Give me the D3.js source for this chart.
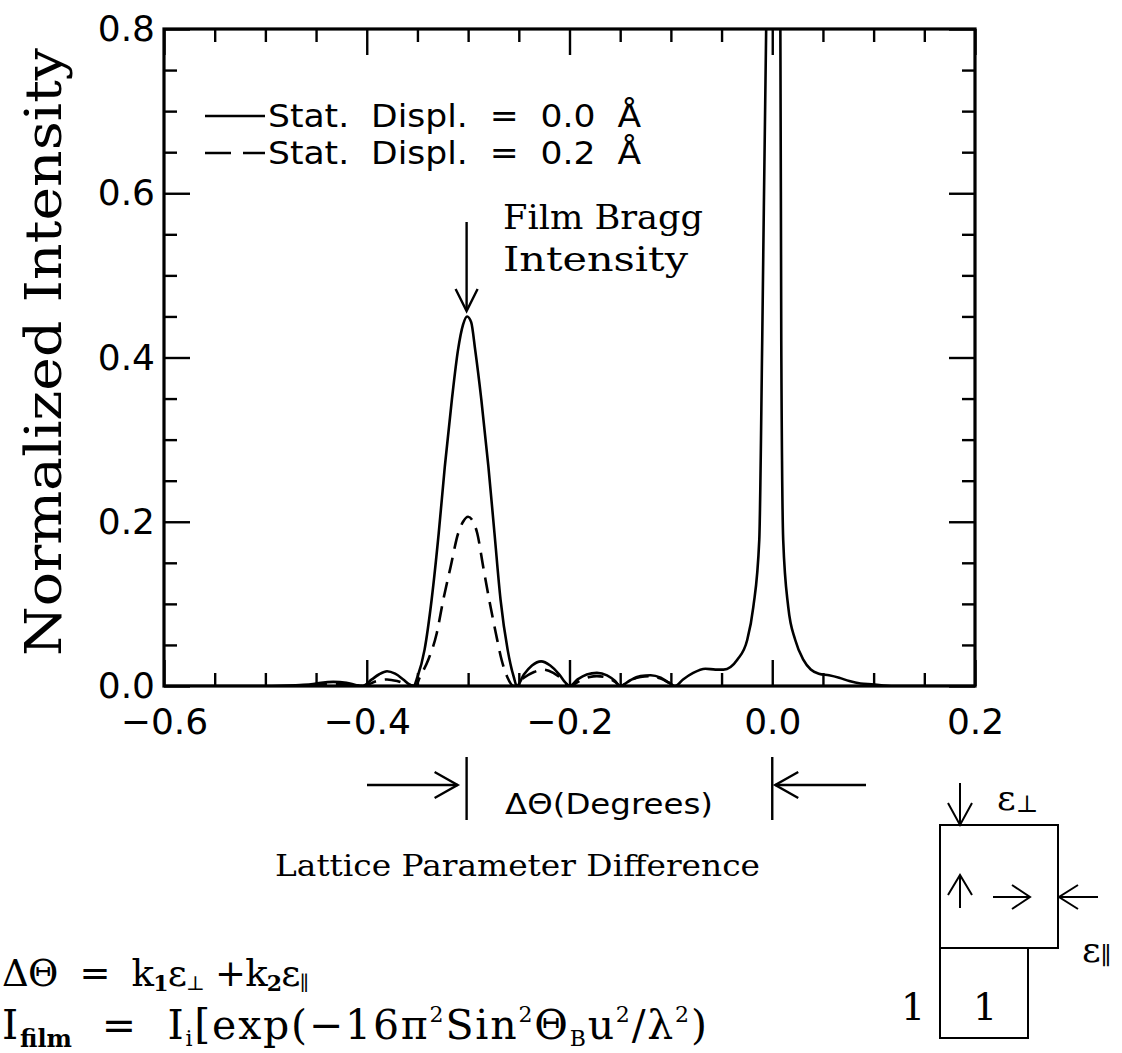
<!DOCTYPE html>
<html>
<head>
<meta charset="utf-8">
<script src="https://cdn.jsdelivr.net/npm/d3@7"></script>
<style>
  html, body { margin: 0; padding: 0; background: #fff; }
  svg { display: block; }
  text { white-space: pre; }
</style>
</head>
<body>
<svg id="chart" width="1122" height="1053"></svg>
<script>
// ---------------- DATA ----------------
const xMajorTicks = [-0.6, -0.4, -0.2, 0.0, 0.2];
const xTickLabels = ["\u22120.6", "\u22120.4", "\u22120.2", "0.0", "0.2"];
const xMinorTicks = [-0.55, -0.5, -0.45, -0.35, -0.3, -0.25, -0.15, -0.1, -0.05, 0.05, 0.1, 0.15];
const yMajorTicks = [0.0, 0.2, 0.4, 0.6, 0.8];
const yTickLabels = ["0.0", "0.2", "0.4", "0.6", "0.8"];
const yMinorTicks = [0.05, 0.1, 0.15, 0.25, 0.3, 0.35, 0.45, 0.5, 0.55, 0.65, 0.7, 0.75];

const seriesNames = ["Stat.  Displ.  =  0.0  \u00c5", "Stat.  Displ.  =  0.2  \u00c5"];

// Stat. Displ. = 0.0 Å (solid)
const solidX = [-0.600, -0.500, -0.470, -0.455, -0.445, -0.433, -0.420, -0.410, -0.404,
  -0.395, -0.388, -0.380, -0.372, -0.364, -0.358, -0.354,
  -0.350, -0.343, -0.336, -0.329, -0.323, -0.316, -0.310, -0.305, -0.301, -0.297, -0.293,
  -0.287, -0.280, -0.274, -0.268, -0.261, -0.255, -0.252,
  -0.245, -0.237, -0.228, -0.219, -0.210, -0.204, -0.200,
  -0.192, -0.183, -0.173, -0.163, -0.155, -0.150,
  -0.140, -0.130, -0.120, -0.110, -0.102, -0.096,
  -0.088, -0.078, -0.066, -0.056, -0.048,
  -0.0345, -0.0247, -0.0187, -0.0128, -0.0099, -0.006, -0.003, 0.001, 0.005,
  0.008, 0.0089, 0.0108, 0.0158, 0.0227, 0.0306, 0.038, 0.046, 0.056, 0.066, 0.076,
  0.087, 0.098, 0.120, 0.200];
const solidY = [0.000, 0.000, 0.001, 0.002, 0.004, 0.005, 0.004, 0.001, 0.000,
  0.008, 0.014, 0.018, 0.015, 0.008, 0.002, 0.000,
  0.011, 0.044, 0.105, 0.186, 0.267, 0.349, 0.409, 0.440, 0.450, 0.443, 0.409,
  0.349, 0.267, 0.186, 0.105, 0.044, 0.011, 0.000,
  0.014, 0.025, 0.030, 0.025, 0.014, 0.004, 0.000,
  0.008, 0.014, 0.016, 0.013, 0.006, 0.000,
  0.007, 0.012, 0.013, 0.010, 0.004, 0.000,
  0.008, 0.016, 0.021, 0.020, 0.020,
  0.032, 0.056, 0.096, 0.178, 0.420, 0.800, 0.950, 1.000, 0.950,
  0.800, 0.420, 0.178, 0.096, 0.056, 0.032, 0.020, 0.015, 0.013, 0.010, 0.006,
  0.003, 0.002, 0.000, 0.000];

// Stat. Displ. = 0.2 Å (dashed)
const dashedX = [-0.455, -0.433, -0.404, -0.390, -0.380, -0.370, -0.360, -0.352,
  -0.3475, -0.3393, -0.331, -0.3245, -0.3173, -0.3098, -0.305, -0.300, -0.295,
  -0.291, -0.2851, -0.2792, -0.2726, -0.267, -0.2614, -0.255,
  -0.245, -0.235, -0.226, -0.216, -0.207, -0.200,
  -0.190, -0.180, -0.173, -0.163, -0.155, -0.150,
  -0.140, -0.130, -0.120, -0.110, -0.102, -0.096];
const dashedY = [0.001, 0.003, 0.000, 0.006, 0.008, 0.006, 0.002, 0.000,
  0.011, 0.032, 0.064, 0.105, 0.145, 0.186, 0.200, 0.206, 0.200,
  0.186, 0.145, 0.105, 0.064, 0.032, 0.011, 0.000,
  0.010, 0.017, 0.020, 0.016, 0.008, 0.000,
  0.006, 0.011, 0.012, 0.010, 0.005, 0.000,
  0.007, 0.011, 0.012, 0.009, 0.004, 0.000];

// ---------------- LAYOUT ----------------
const svg = d3.select("#chart");
const L = 164, R = 975, T = 29, B = 686;
const x = d3.scaleLinear().domain([-0.6, 0.2]).range([L, R]);
const y = d3.scaleLinear().domain([0, 0.8]).range([B, T]);

const SANS = "'DejaVu Sans', 'Liberation Sans', sans-serif";
const SERIF = "'DejaVu Serif', 'Liberation Serif', serif";
const INK = "#000";

svg.append("defs").append("clipPath").attr("id", "plotclip")
  .append("rect").attr("x", L).attr("y", T).attr("width", R - L).attr("height", B - T);

// ---------------- AXES ----------------
function styleAxis(g) {
  g.select(".domain").remove();
  g.selectAll(".tick line").attr("stroke", INK).attr("stroke-width", 2.4);
}
svg.append("g").attr("transform", `translate(0,${B})`)
  .call(d3.axisBottom(x).tickValues(xMinorTicks).tickSize(-13).tickFormat("")).call(styleAxis);
const xb = svg.append("g").attr("transform", `translate(0,${B})`)
  .call(d3.axisBottom(x).tickValues(xMajorTicks).tickSize(-26).tickPadding(22)
    .tickFormat((d, i) => xTickLabels[i])).call(styleAxis);
xb.selectAll("text").attr("font-family", SANS).attr("font-size", 36).attr("fill", INK);
svg.append("g").attr("transform", `translate(0,${T})`)
  .call(d3.axisTop(x).tickValues(xMinorTicks).tickSize(-13).tickFormat("")).call(styleAxis);
svg.append("g").attr("transform", `translate(0,${T})`)
  .call(d3.axisTop(x).tickValues(xMajorTicks).tickSize(-26).tickFormat("")).call(styleAxis);
svg.append("g").attr("transform", `translate(${L},0)`)
  .call(d3.axisLeft(y).tickValues(yMinorTicks).tickSize(-13).tickFormat("")).call(styleAxis);
const yl = svg.append("g").attr("transform", `translate(${L},0)`)
  .call(d3.axisLeft(y).tickValues(yMajorTicks).tickSize(-26).tickPadding(9)
    .tickFormat((d, i) => yTickLabels[i])).call(styleAxis);
yl.selectAll("text").attr("font-family", SANS).attr("font-size", 36).attr("fill", INK);
svg.append("g").attr("transform", `translate(${R},0)`)
  .call(d3.axisRight(y).tickValues(yMinorTicks).tickSize(-13).tickFormat("")).call(styleAxis);
svg.append("g").attr("transform", `translate(${R},0)`)
  .call(d3.axisRight(y).tickValues(yMajorTicks).tickSize(-26).tickFormat("")).call(styleAxis);

svg.append("rect").attr("x", L).attr("y", T).attr("width", R - L).attr("height", B - T)
  .attr("fill", "none").attr("stroke", INK).attr("stroke-width", 3.2);

// ---------------- CURVES ----------------
const line = d3.line().x(d => x(d[0])).y(d => y(d[1])).curve(d3.curveMonotoneX);
const solid = solidX.map((v, i) => [v, solidY[i]]);
const dashed = dashedX.map((v, i) => [v, dashedY[i]]);
const plot = svg.append("g").attr("clip-path", "url(#plotclip)");
plot.append("path").datum(solid).attr("d", line)
  .attr("fill", "none").attr("stroke", INK).attr("stroke-width", 2.6).attr("stroke-linejoin", "round");
plot.append("path").datum(dashed).attr("d", line)
  .attr("fill", "none").attr("stroke", INK).attr("stroke-width", 2.6).attr("stroke-dasharray", "16,9");

// ---------------- ARROW HELPER ----------------
function arrow(g, x1, y1, x2, y2, headLen, headHalf, sw) {
  g.append("line").attr("x1", x1).attr("y1", y1).attr("x2", x2).attr("y2", y2)
    .attr("stroke", INK).attr("stroke-width", sw);
  const ang = Math.atan2(y2 - y1, x2 - x1);
  const bx = x2 - headLen * Math.cos(ang), by = y2 - headLen * Math.sin(ang);
  const px = -Math.sin(ang) * headHalf, py = Math.cos(ang) * headHalf;
  g.append("path").attr("d", `M${bx + px},${by + py}L${x2},${y2}L${bx - px},${by - py}`)
    .attr("fill", "none").attr("stroke", INK).attr("stroke-width", sw).attr("stroke-linejoin", "miter");
}

// ---------------- LEGEND ----------------
const lg = svg.append("g");
lg.append("line").attr("x1", 205).attr("x2", 265).attr("y1", 116).attr("y2", 116)
  .attr("stroke", INK).attr("stroke-width", 2.6);
lg.append("line").attr("x1", 205).attr("x2", 265).attr("y1", 153).attr("y2", 153)
  .attr("stroke", INK).attr("stroke-width", 2.6).attr("stroke-dasharray", "26,12,22");
lg.append("text").attr("x", 268).attr("y", 127).text(seriesNames[0])
  .attr("font-family", SANS).attr("font-size", 32).attr("textLength", 373)
  .attr("lengthAdjust", "spacingAndGlyphs");
lg.append("text").attr("x", 268).attr("y", 164).text(seriesNames[1])
  .attr("font-family", SANS).attr("font-size", 32).attr("textLength", 373)
  .attr("lengthAdjust", "spacingAndGlyphs");

// ---------------- ANNOTATIONS ----------------
const an = svg.append("g");
an.append("text").attr("x", 503).attr("y", 229).text("Film Bragg")
  .attr("font-family", SERIF).attr("font-size", 33).attr("textLength", 200).attr("lengthAdjust", "spacingAndGlyphs");
an.append("text").attr("x", 503).attr("y", 271).text("Intensity")
  .attr("font-family", SERIF).attr("font-size", 33).attr("textLength", 185).attr("lengthAdjust", "spacingAndGlyphs");
arrow(an, x(-0.3015), 222, x(-0.3015), 311, 22, 11, 2.4);

svg.append("text").attr("transform", "translate(61,352) rotate(-90)")
  .attr("text-anchor", "middle").text("Normalized Intensity")
  .attr("font-family", SERIF).attr("font-size", 50).attr("textLength", 608).attr("lengthAdjust", "spacingAndGlyphs");

// ΔΘ bracket below axis
const br = svg.append("g");
arrow(br, 367, 785, x(-0.3015) - 9, 785, 23, 13, 2.4);
br.append("line").attr("x1", x(-0.3015)).attr("x2", x(-0.3015)).attr("y1", 757).attr("y2", 820)
  .attr("stroke", INK).attr("stroke-width", 2.4);
br.append("line").attr("x1", x(0)).attr("x2", x(0)).attr("y1", 757).attr("y2", 820)
  .attr("stroke", INK).attr("stroke-width", 2.4);
arrow(br, 866, 785, x(0) + 3, 785, 23, 13, 2.4);
br.append("text").attr("x", 505).attr("y", 814).text("\u0394\u0398(Degrees)")
  .attr("font-family", SANS).attr("font-size", 29).attr("textLength", 208).attr("lengthAdjust", "spacingAndGlyphs");

svg.append("text").attr("x", 275).attr("y", 876).text("Lattice Parameter Difference")
  .attr("font-family", SERIF).attr("font-size", 29).attr("textLength", 485).attr("lengthAdjust", "spacingAndGlyphs");

// ---------------- FORMULAS ----------------
const f1 = svg.append("text").attr("x", 2).attr("y", 986)
  .attr("font-family", SERIF).attr("font-size", 37).attr("letter-spacing", -0.8);
f1.append("tspan").text("\u0394\u0398  =  k");
f1.append("tspan").attr("font-size", 22).attr("dy", 5).attr("font-weight", "bold").text("1");
f1.append("tspan").attr("dy", -5).text("\u03b5");
f1.append("tspan").attr("font-size", 20).attr("dy", 4).text("\u22a5");
f1.append("tspan").attr("dy", -4).text(" +k");
f1.append("tspan").attr("font-size", 22).attr("dy", 5).attr("font-weight", "bold").text("2");
f1.append("tspan").attr("dy", -5).text("\u03b5");
f1.append("tspan").attr("font-size", 20).attr("dy", 4).text("\u2225");

const f2 = svg.append("text").attr("x", 2).attr("y", 1039)
  .attr("font-family", SERIF).attr("font-size", 41).attr("letter-spacing", 1.8);
f2.append("tspan").text("I");
f2.append("tspan").attr("font-size", 24).attr("dy", 8).attr("font-weight", "bold").attr("letter-spacing", 0).text("film");
f2.append("tspan").attr("dy", -8).text("  =  I");
f2.append("tspan").attr("font-size", 22).attr("dy", 7).text("i");
f2.append("tspan").attr("dy", -7).text("[exp(\u221216\u03c0");
f2.append("tspan").attr("font-size", 22).attr("dy", -17).text("2");
f2.append("tspan").attr("dy", 17).text("Sin");
f2.append("tspan").attr("font-size", 22).attr("dy", -17).text("2");
f2.append("tspan").attr("dy", 17).text("\u0398");
f2.append("tspan").attr("font-size", 22).attr("dy", 7).text("B");
f2.append("tspan").attr("dy", -7).text("u");
f2.append("tspan").attr("font-size", 22).attr("dy", -17).text("2");
f2.append("tspan").attr("dy", 17).text("/\u03bb");
f2.append("tspan").attr("font-size", 22).attr("dy", -17).text("2");
f2.append("tspan").attr("dy", 17).text(")");

// ---------------- STRAIN DIAGRAM ----------------
const dg = svg.append("g");
dg.append("rect").attr("x", 940).attr("y", 825).attr("width", 118).attr("height", 123)
  .attr("fill", "none").attr("stroke", INK).attr("stroke-width", 2);
dg.append("rect").attr("x", 940).attr("y", 948).attr("width", 88).attr("height", 90)
  .attr("fill", "none").attr("stroke", INK).attr("stroke-width", 2);
arrow(dg, 960, 783, 960, 825, 22, 12, 2);
arrow(dg, 960, 908, 960, 875, 20, 12, 2);
arrow(dg, 993, 897, 1030, 897, 18, 12, 2);
arrow(dg, 1098, 897, 1059, 897, 19, 12, 2);
const e1 = dg.append("text").attr("x", 997).attr("y", 810).attr("font-family", SERIF).attr("font-size", 36);
e1.append("tspan").text("\u03b5");
e1.append("tspan").attr("font-size", 24).attr("dy", 2).text("\u22a5");
const e2 = dg.append("text").attr("x", 1082).attr("y", 962).attr("font-family", SERIF).attr("font-size", 36);
e2.append("tspan").text("\u03b5");
e2.append("tspan").attr("font-size", 24).attr("dy", 2).text("\u2225");
dg.append("text").attr("x", 913).attr("y", 1020).attr("text-anchor", "middle")
  .attr("font-family", SERIF).attr("font-size", 38).text("1");
dg.append("text").attr("x", 985).attr("y", 1020).attr("text-anchor", "middle")
  .attr("font-family", SERIF).attr("font-size", 38).text("1");
</script>
</body>
</html>
